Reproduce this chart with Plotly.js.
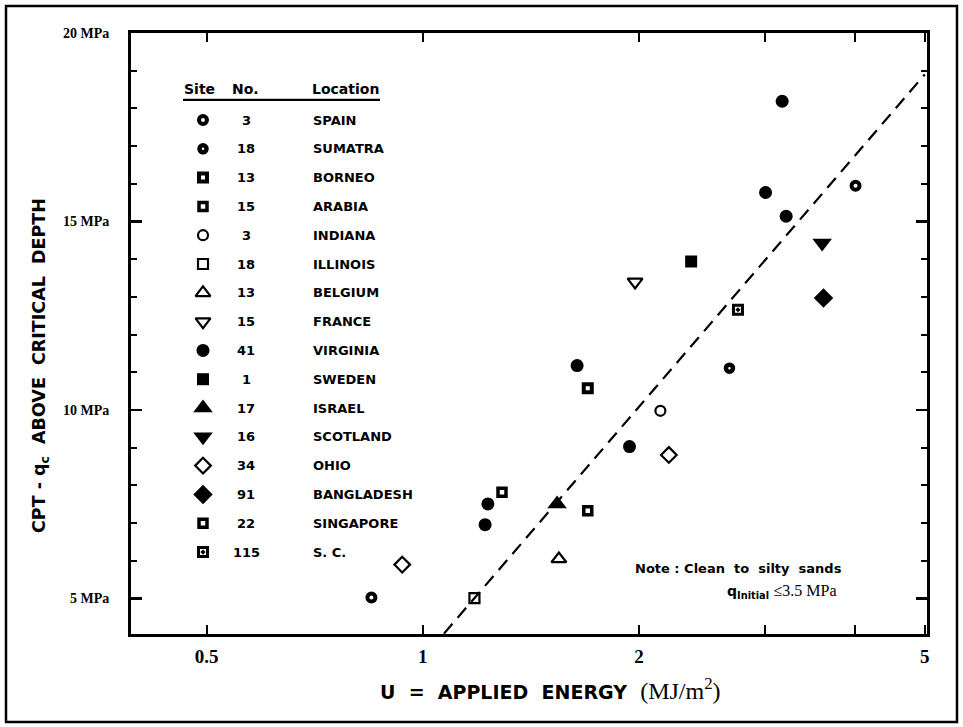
<!DOCTYPE html>
<html><head><meta charset="utf-8">
<script src="https://cdn.plot.ly/plotly-3.0.1.min.js"></script>
<style>html,body{margin:0;padding:0;background:#fff}#chart{width:963px;height:727px}</style>
</head><body><div id="chart"></div>
<script>
// ---------------- data ----------------
const locations = ['SPAIN','SUMATRA','BORNEO','ARABIA','INDIANA','ILLINOIS','BELGIUM','FRANCE','VIRGINIA','SWEDEN','ISRAEL','SCOTLAND','OHIO','BANGLADESH','SINGAPORE','S. C.'];
const siteNos = ['3','18','13','15','3','18','13','15','41','1','17','16','34','91','22','115'];
const energyBySite = [
  [0.848, 4.005],
  [2.673],
  [1.697],
  [1.697],
  [2.142],
  [1.180],
  [1.547],
  [1.975],
  [1.640, 1.940, 1.232, 1.221, 3.165, 3.001, 3.206],
  [2.364],
  [1.538],
  [3.598],
  [2.201, 0.936],
  [3.614],
  [1.289],
  [2.747]
];
const qcBySite = [
  [5.03, 15.95],
  [11.11],
  [10.58],
  [7.33],
  [9.98],
  [5.01],
  [6.05],
  [13.4],
  [11.18, 9.03, 7.51, 6.96, 18.19, 15.77, 15.14],
  [13.94],
  [7.51],
  [14.43],
  [8.81, 5.90],
  [12.97],
  [7.82],
  [12.66]
];
const fitEnergy = [1.07, 5.0];
const fitQc = [4.07, 18.9];
const yTickVals = [5, 10, 15, 20];
const yTickText = ['5 MPa', '10 MPa', '15 MPa', '20 MPa'];
const xTickVals = [0.5, 1, 2, 5];
const xTickText = ['0.5', '1', '2', '5'];
const xMinorTicks = [3, 4];

// ---------------- styles ----------------
const styles = [
  {symbol:'circle-open', size:8, lw:4},
  {symbol:'circle-open', size:7, lw:4.5},
  {symbol:'square-open', size:8, lw:4},
  {symbol:'square-open', size:8, lw:3.5},
  {symbol:'circle-open', size:10, lw:2.2},
  {symbol:'square-open', size:10, lw:2.2},
  {symbol:'triangle-up-open', size:13, lw:2.2},
  {symbol:'triangle-down-open', size:13, lw:2.2},
  {symbol:'circle', size:13, lw:0},
  {symbol:'square', size:12, lw:0},
  {symbol:'triangle-up', size:17, lw:0},
  {symbol:'triangle-down', size:17, lw:0},
  {symbol:'diamond-open', size:12, lw:2.2},
  {symbol:'diamond', size:15, lw:0},
  {symbol:'square-open', size:8, lw:3.5},
  {symbol:'square-open-dot', size:9, lw:3}
];

const W = 963, H = 727, L = 131, R = 36, T = 33, B = 93;
const pw = W - L - R, ph = H - T - B;
const pxX = p => (p - L) / pw;
const pxY = p => (H - B - p) / ph;

const traces = [];
traces.push({
  x: fitEnergy, y: fitQc, mode: 'lines', type: 'scatter', showlegend: false,
  line: {color: '#000', width: 2.2, dash: '13px,8px'}, hoverinfo: 'skip'
});
locations.forEach((loc, i) => {
  const s = styles[i];
  traces.push({
    x: energyBySite[i], y: qcBySite[i], mode: 'markers', type: 'scatter', name: loc,
    showlegend: false, cliponaxis: false,
    marker: {symbol: s.symbol, size: s.size, color: '#000', opacity: 1, line: {color: '#000', width: s.lw}}
  });
});
// legend table symbols
const symCol = 72, numCol = 115, locCol = 180;
traces.push({
  x: locations.map(() => symCol), y: locations.map((_, i) => i),
  xaxis: 'x2', yaxis: 'y2', mode: 'markers', type: 'scatter', showlegend: false,
  marker: {
    symbol: styles.map(s => s.symbol), size: styles.map(s => s.size), color: '#000', opacity: 1,
    line: {color: '#000', width: styles.map(s => s.lw)}
  }
});

const legFont = {family: 'DejaVu Sans', size: 13, color: '#000', weight: 'bold'};
const annotations = [];
locations.forEach((loc, i) => {
  annotations.push({xref: 'x2', yref: 'y2', x: numCol, y: i, text: siteNos[i], showarrow: false,
    xanchor: 'center', yanchor: 'middle', font: legFont});
  annotations.push({xref: 'x2', yref: 'y2', x: locCol, y: i, text: loc, showarrow: false,
    xanchor: 'left', yanchor: 'middle', font: legFont});
});
const hdrFont = {family: 'DejaVu Sans', size: 14, color: '#000', weight: 'bold'};
annotations.push({xref: 'x2', yref: 'y2', x: 68, y: -1.07, text: 'Site', showarrow: false, xanchor: 'center', yanchor: 'middle', font: hdrFont});
annotations.push({xref: 'x2', yref: 'y2', x: 114, y: -1.07, text: 'No.', showarrow: false, xanchor: 'center', yanchor: 'middle', font: hdrFont});
annotations.push({xref: 'x2', yref: 'y2', x: 179, y: -1.07, text: 'Location', showarrow: false, xanchor: 'left', yanchor: 'middle', font: hdrFont});

// axis titles and note
annotations.push({xref: 'paper', yref: 'paper', x: pxX(41), y: pxY(366), textangle: -90, showarrow: false,
  xanchor: 'center', yanchor: 'middle',
  text: 'CPT - q<sub>c</sub>  ABOVE  CRITICAL  DEPTH',
  font: {family: 'DejaVu Sans', size: 17.5, color: '#000', weight: 'bold'}});
annotations.push({xref: 'paper', yref: 'paper', x: pxX(550), y: pxY(689), showarrow: false,
  xanchor: 'center', yanchor: 'middle',
  text: 'U  =  APPLIED  ENERGY  <span style="font-family:Liberation Serif;font-size:24px;font-weight:normal">(MJ/m<sup>2</sup>)</span>',
  font: {family: 'DejaVu Sans', size: 19, color: '#000', weight: 'bold'}});
annotations.push({xref: 'paper', yref: 'paper', x: pxX(633), y: pxY(568), showarrow: false,
  xanchor: 'left', yanchor: 'middle', text: 'Note : Clean  to  silty  sands',
  font: {family: 'DejaVu Sans', size: 13, color: '#000', weight: 'bold'}});
annotations.push({xref: 'paper', yref: 'paper', x: pxX(725), y: pxY(591), showarrow: false,
  xanchor: 'left', yanchor: 'middle',
  text: '<b>q<sub>Initial</sub></b> <span style="font-family:Liberation Serif;font-size:16px">≤3.5 MPa</span>',
  font: {family: 'DejaVu Sans', size: 14, color: '#000'}});

const shapes = [
  {type: 'rect', xref: 'paper', yref: 'paper', x0: pxX(6), x1: pxX(957), y0: pxY(722), y1: pxY(6),
   line: {color: '#000', width: 2.5}},
  {type: 'line', xref: 'x2', yref: 'y2', x0: 52, x1: 249, y0: -0.7, y1: -0.7, line: {color: '#000', width: 2.2}}
];

const layout = {
  width: W, height: H,
  margin: {l: L, r: R, t: T, b: B},
  paper_bgcolor: '#fff', plot_bgcolor: '#fff',
  showlegend: false,
  xaxis: {
    type: 'log', range: [Math.log10(0.3923), Math.log10(5.036)],
    tickmode: 'array', tickvals: xTickVals, ticktext: xTickText,
    ticks: 'inside', ticklen: 9, tickwidth: 2, tickcolor: '#000',
    showline: true, linewidth: 3, linecolor: '#000', mirror: 'ticks',
    showgrid: false, zeroline: false,
    minor: {tickmode: 'array', tickvals: xMinorTicks, ticks: 'inside', ticklen: 9, tickwidth: 2, tickcolor: '#000', showgrid: false},
    tickfont: {family: 'Liberation Serif', size: 19, color: '#000', weight: 'bold'},
    ticklabelstandoff: 3
  },
  yaxis: {
    range: [4.06, 20],
    tickmode: 'array', tickvals: yTickVals, ticktext: yTickText,
    ticks: 'inside', ticklen: 11, tickwidth: 2.5, tickcolor: '#000',
    showline: true, linewidth: 3, linecolor: '#000', mirror: 'ticks',
    showgrid: false, zeroline: false,
    minor: {tick0: 0, dtick: 1, ticks: 'inside', ticklen: 6, tickwidth: 2, tickcolor: '#000', showgrid: false},
    tickfont: {family: 'Liberation Serif', size: 14, color: '#000', weight: 'bold'},
    ticklabelstandoff: 16
  },
  xaxis2: {overlaying: 'x', range: [0, pw], visible: false, fixedrange: true},
  yaxis2: {overlaying: 'y', range: [17.847, -3.021], visible: false, fixedrange: true},
  annotations: annotations,
  shapes: shapes
};

Plotly.newPlot('chart', traces, layout, {displayModeBar: false, staticPlot: true});
</script>
</body></html>
